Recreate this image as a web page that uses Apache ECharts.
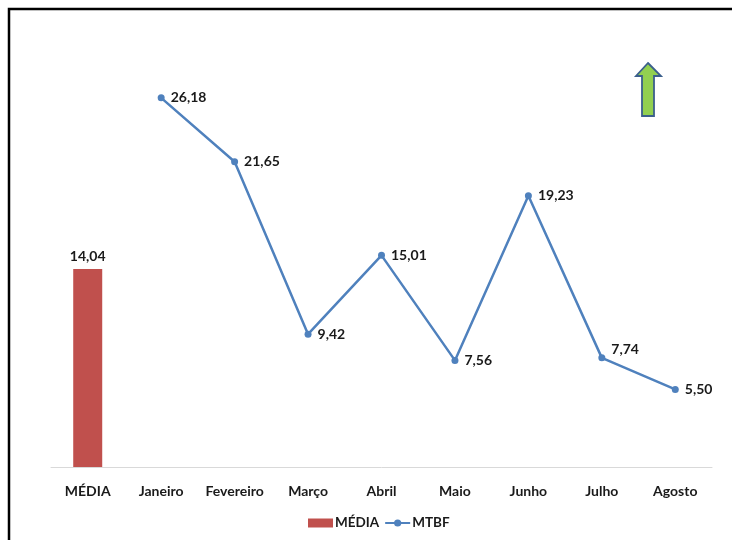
<!DOCTYPE html>
<html>
<head>
<meta charset="utf-8">
<script src="https://cdn.jsdelivr.net/npm/echarts@6/dist/echarts.min.js"></script>
<style>
  html, body { margin: 0; padding: 0; background: #fff; }
  #chart { width: 732px; height: 540px; }
</style>
</head>
<body>
<div id="chart"></div>
<script>
// Monthly MTBF with the period average shown as a bar
const categories = ['MÉDIA', 'Janeiro', 'Fevereiro', 'Março', 'Abril', 'Maio', 'Junho', 'Julho', 'Agosto'];
const mediaValues = [14.04, '-', '-', '-', '-', '-', '-', '-', '-'];
const mtbfValues = ['-', 26.18, 21.65, 9.42, 15.01, 7.56, 19.23, 7.74, 5.50];

const FONT = 'Lato';
const FS = 14;
const fmt = v => Number(v).toFixed(2).replace('.', ',');

// Julho's label sits a little above its point so it clears the line
const mtbfData = mtbfValues.map((v, i) =>
  categories[i] === 'Julho' ? { value: v, label: { offset: [0, -8] } } : v
);

const chart = echarts.init(document.getElementById('chart'), null, { renderer: 'canvas' });

chart.setOption({
  backgroundColor: '#ffffff',
  animation: false,
  grid: { left: 51, right: 20, top: 44, bottom: 73, containLabel: false },
  legend: {
    bottom: 5,
    left: 303,
    itemGap: 5,
    itemWidth: 25,
    itemHeight: 9,
    textStyle: { fontFamily: FONT, fontWeight: 'bold', fontSize: 13.5, color: '#1a1a1a', padding: [0, 0, 0, -3] },
    data: [
      { name: 'MÉDIA', icon: 'rect' },
      { name: 'MTBF' }
    ]
  },
  xAxis: {
    type: 'category',
    data: categories,
    axisLine: { lineStyle: { color: '#d9d9d9', width: 1 } },
    axisTick: { show: false },
    axisLabel: {
      interval: 0,
      margin: 17,
      fontFamily: FONT, fontWeight: 'bold', fontSize: FS, color: '#1a1a1a'
    }
  },
  yAxis: {
    type: 'value',
    min: 0, max: 30, interval: 5,
    show: false,
    splitLine: { show: false }
  },
  series: [
    {
      name: 'MÉDIA',
      type: 'bar',
      data: mediaValues,
      barWidth: 29,
      barGap: '-100%',
      itemStyle: { color: '#C0504D' },
      label: {
        show: true, position: 'top', distance: 6,
        formatter: p => fmt(p.value),
        fontFamily: FONT, fontWeight: 'bold', fontSize: FS, color: '#1a1a1a'
      }
    },
    {
      name: 'MTBF',
      type: 'line',
      data: mtbfData,
      connectNulls: false,
      symbol: 'circle',
      symbolSize: 7,
      lineStyle: { color: '#4F81BD', width: 2.5 },
      itemStyle: { color: '#4F81BD' },
      label: {
        show: true, position: 'right', distance: 6,
        formatter: p => fmt(p.value),
        fontFamily: FONT, fontWeight: 'bold', fontSize: FS, color: '#1a1a1a'
      }
    }
  ],
  graphic: [
    {
      type: 'rect',
      shape: { x: 9, y: 9, width: 740, height: 560 },
      style: { fill: 'none', stroke: '#000', lineWidth: 2.5 },
      silent: true
    },
    {
      type: 'polygon',
      shape: {
        points: [[648, 63], [661, 76], [654, 76], [654, 116], [642, 116], [642, 76], [636, 76]]
      },
      style: { fill: '#92D050', stroke: '#3B5F8C', lineWidth: 1.8 },
      silent: true
    }
  ]
});
</script>
</body>
</html>
